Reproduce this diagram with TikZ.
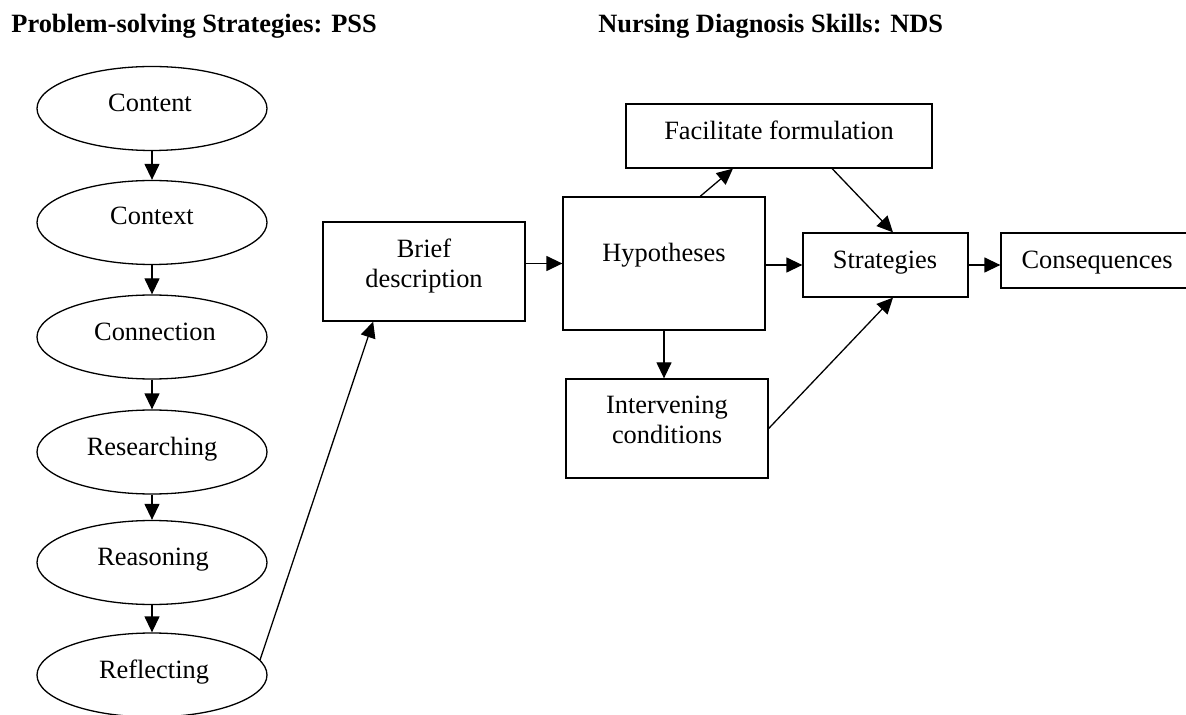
\documentclass[tikz,border=0pt]{standalone}
\usepackage{fontspec}
\setmainfont{Liberation Serif}
\usetikzlibrary{arrows.meta,calc,shapes.geometric}
\begin{document}
\begin{tikzpicture}[x=0.5pt,y=-0.5pt,
  every node/.style={font=\fontsize{13.2}{15}\selectfont},
  oval/.style={draw,ellipse,line width=0.65pt,minimum width=115pt,minimum height=42pt,inner sep=0pt},
  box/.style={draw,rectangle,line width=0.65pt,inner sep=0pt},
  lbl/.style={anchor=base,inner sep=0pt},
  lbltwo/.style={align=center,inner sep=0pt},
  arr/.style={line width=0.65pt,-{Triangle[length=8pt,width=7.5pt]}},
  ttl/.style={anchor=base west,inner sep=0pt,font=\fontsize{13.2}{15}\selectfont\bfseries}]
\useasboundingbox (0,0) rectangle (1186,715);

% titles
\node[ttl] (t1) at (11,33) {Problem-solving Strategies: PSS};
\node[ttl] (t2) at (598,33) {Nursing Diagnosis Skills: NDS};

% PSS ellipses
\node[oval] (content) at (152,108.5) {};
\node[oval] (context) at (152,222.5) {};
\node[oval] (connection) at (152,337) {};
\node[oval] (researching) at (152,452) {};
\node[oval] (reasoning) at (152,562.5) {};
\node[oval] (reflecting) at (152,675) {};

\node[lbl] (tcontent) at (150,112) {Content};
\node[lbl] (tcontext) at (152,225) {Context};
\node[lbl] (tconnection) at (155,341) {Connection};
\node[lbl] (tresearching) at (152,455) {Researching};
\node[lbl] (treasoning) at (153,565) {Reasoning};
\node[lbl] (treflecting) at (154,678) {Reflecting};

\draw[arr] (content.south) -- (context.north);
\draw[arr] (context.south) -- (connection.north);
\draw[arr] (connection.south) -- (researching.north);
\draw[arr] (researching.south) -- (reasoning.north);
\draw[arr] (reasoning.south) -- (reflecting.north);

% NDS boxes
\node[box,minimum width=101pt,minimum height=49.5pt] (brief) at (424,271.5) {};
\node[box,minimum width=101pt,minimum height=66.5pt] (hyp) at (664,263.5) {};
\node[box,minimum width=153pt,minimum height=32pt] (fac) at (779,136) {};
\node[box,minimum width=82.5pt,minimum height=32pt] (strat) at (885.5,265) {};
\node[box,minimum width=97pt,minimum height=27.5pt] (cons) at (1098,260.5) {};
\node[box,minimum width=101pt,minimum height=49.5pt] (interv) at (667,428.5) {};

\node[lbltwo] (tbrief) at (424,266) {Brief\\description};
\node[lbl] (thyp) at (664,262) {Hypotheses};
\node[lbl] (tfac) at (779,140) {Facilitate formulation};
\node[lbl] (tstrat) at (885,269) {Strategies};
\node[lbl] (tcons) at (1097,269) {Consequences};
\node[lbltwo] (tinterv) at (667,420) {Intervening\\conditions};

\draw[arr] (brief.east |- hyp.west) -- (hyp.west);
\draw[arr] (hyp.east |- strat.west) -- (strat.west);
\draw[arr] (strat.east) -- (strat.east -| cons.west);
\draw[arr] ($(hyp.north west)!0.678!(hyp.north east)$) -- ($(fac.south west)!0.35!(fac.south east)$);
\draw[arr] ($(fac.south west)!0.673!(fac.south east)$) -- ($(strat.north west)!0.545!(strat.north east)$);
\draw[arr] (interv.east) -- ($(strat.south west)!0.545!(strat.south east)$);
\draw[arr] (hyp.south) -- (hyp.south |- interv.north);
\draw[arr] (reflecting.8) -- ($(brief.south west)!0.25!(brief.south east)$);
\end{tikzpicture}
\end{document}
